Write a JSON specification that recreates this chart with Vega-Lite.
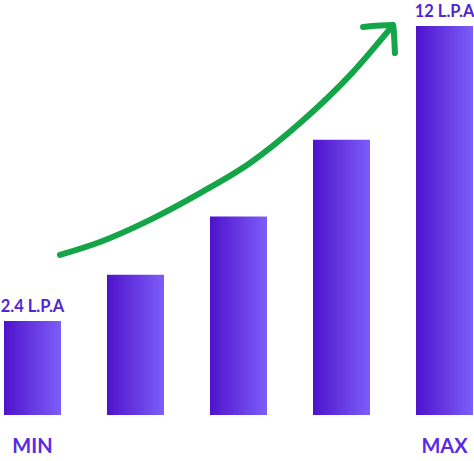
{
  "$schema": "https://vega.github.io/schema/vega-lite/v6.json",
  "width": 474,
  "height": 461,
  "autosize": {"type": "none"},
  "padding": 0,
  "background": "white",
  "config": {"view": {"stroke": null}},
  "datasets": {
    "bars": [
      {"i": 0, "v": 2.4, "label": "2.4 L.P.A", "cat": "MIN"},
      {"i": 1, "v": 3.9, "label": "", "cat": ""},
      {"i": 2, "v": 5.8, "label": "", "cat": ""},
      {"i": 3, "v": 8.3, "label": "", "cat": ""},
      {"i": 4, "v": 12, "label": "12 L.P.A", "cat": "MAX"}
    ],
    "trend": [
      {"part": "curve", "k": 0, "x": 0.267, "y": 4.55},
      {"part": "curve", "k": 1, "x": 0.655, "y": 4.97},
      {"part": "curve", "k": 2, "x": 1.141, "y": 5.69},
      {"part": "curve", "k": 3, "x": 1.626, "y": 6.56},
      {"part": "curve", "k": 4, "x": 2.112, "y": 7.54},
      {"part": "curve", "k": 5, "x": 2.597, "y": 8.84},
      {"part": "curve", "k": 6, "x": 3.083, "y": 10.4},
      {"part": "curve", "k": 7, "x": 3.5, "y": 12.03},
      {"part": "head", "k": 0, "x": 3.209, "y": 11.97},
      {"part": "head", "k": 1, "x": 3.5, "y": 12.03},
      {"part": "head", "k": 2, "x": 3.519, "y": 11.12}
    ]
  },
  "layer": [
    {
      "data": {"name": "bars"},
      "mark": {
        "type": "bar",
        "size": 57,
        "color": {
          "gradient": "linear",
          "x1": 0, "y1": 0, "x2": 1, "y2": 0,
          "stops": [
            {"offset": 0, "color": "#4f12cc"},
            {"offset": 1, "color": "#7c5ef8"}
          ]
        }
      },
      "encoding": {
        "x": {"field": "i", "type": "quantitative", "scale": {"domain": [-0.3155, 4.2864], "nice": false, "zero": false, "padding": 0}, "axis": null},
        "y": {"field": "v", "type": "quantitative", "scale": {"domain": [-2.157, 12.845], "nice": false, "zero": false, "padding": 0}, "axis": null},
        "y2": {"datum": -0.66}
      }
    },
    {
      "data": {"name": "bars"},
      "mark": {"type": "text", "font": "Lato", "fontWeight": "bold", "fontSize": 16.5, "baseline": "alphabetic", "dy": -9, "color": "#5226d6"},
      "encoding": {
        "x": {"field": "i", "type": "quantitative"},
        "y": {"field": "v", "type": "quantitative"},
        "text": {"field": "label"}
      }
    },
    {
      "data": {"name": "bars"},
      "mark": {"type": "text", "font": "Lato", "fontWeight": "bold", "fontSize": 20, "baseline": "alphabetic", "color": "#5a2be0"},
      "encoding": {
        "x": {"field": "i", "type": "quantitative"},
        "y": {"datum": -1.9},
        "text": {"field": "cat"}
      }
    },
    {
      "data": {"name": "trend"},
      "mark": {"type": "line", "color": "#14a548", "strokeWidth": 6, "strokeCap": "round", "strokeJoin": "round", "interpolate": "monotone"},
      "encoding": {
        "x": {"field": "x", "type": "quantitative"},
        "y": {"field": "y", "type": "quantitative"},
        "detail": {"field": "part"},
        "order": {"field": "k"}
      }
    }
  ]
}
